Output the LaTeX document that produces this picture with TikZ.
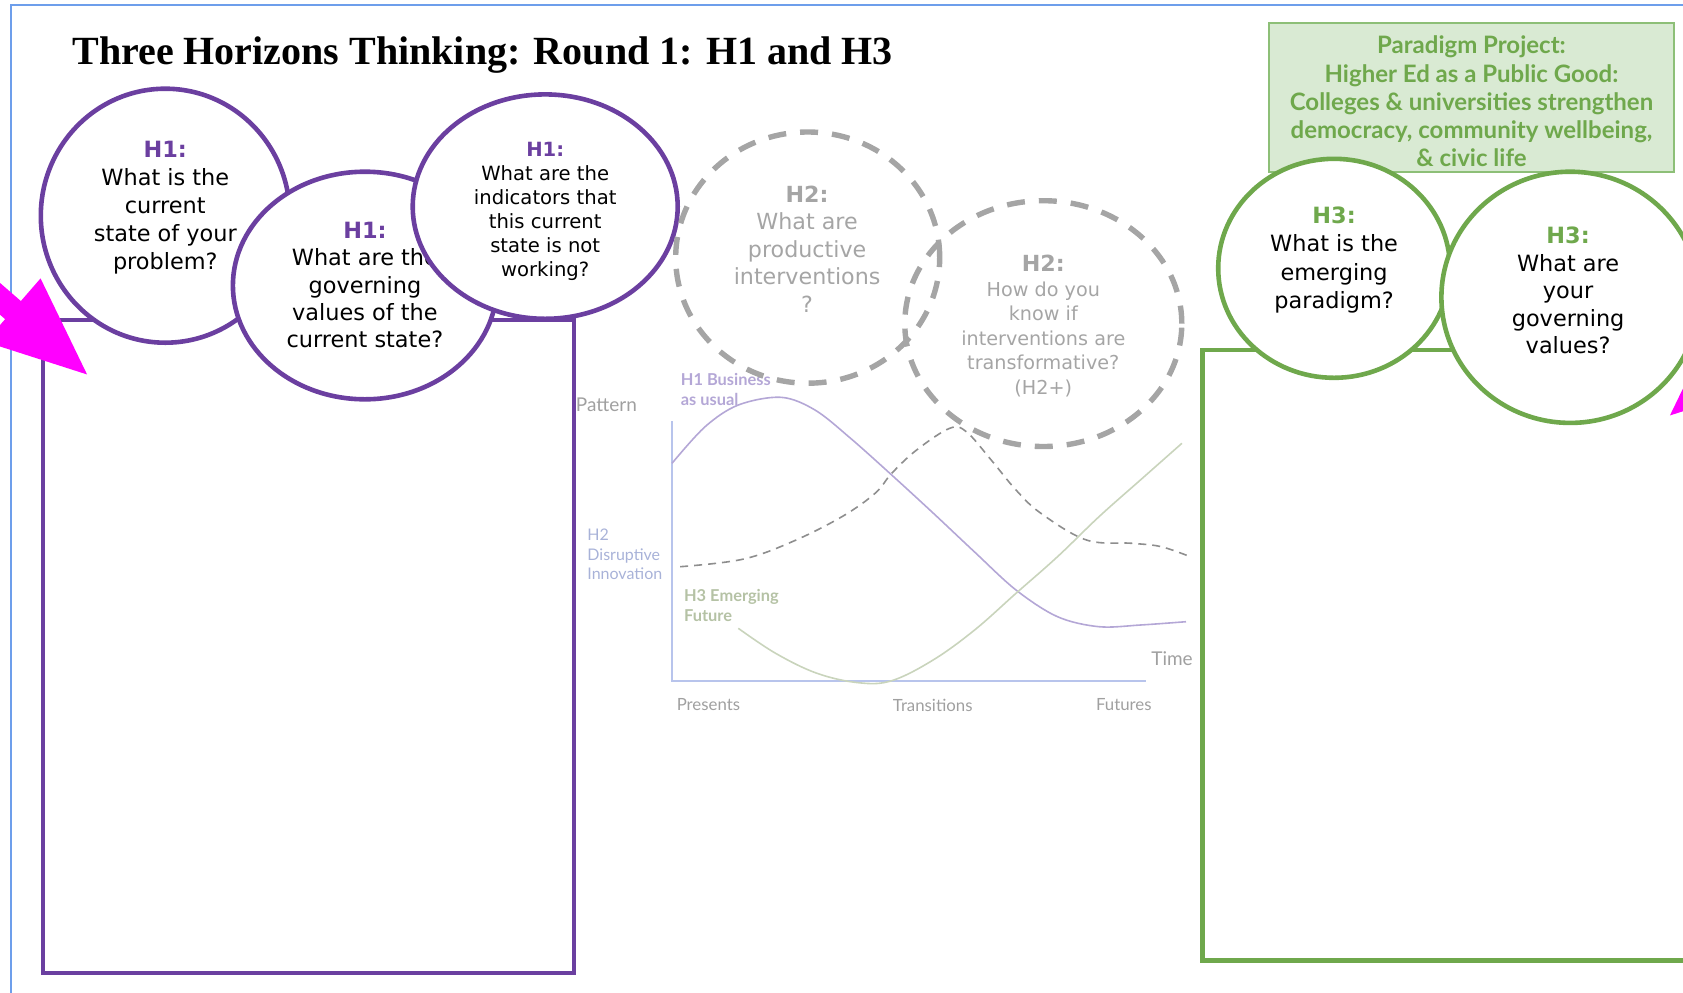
\documentclass[tikz,border=0pt]{standalone}
\usepackage{fontspec}
\setmainfont{Liberation Serif}
\newfontfamily\qfont{DejaVu Sans}
\newfontfamily\lato{Lato}
\usetikzlibrary{shapes.geometric,arrows.meta,positioning}
\definecolor{hpurple}{HTML}{6B3FA0}
\definecolor{hgreen}{HTML}{6FA84C}
\definecolor{hgreenfill}{HTML}{D9EAD3}
\definecolor{hgreenedge}{HTML}{8DBF77}
\definecolor{hgray}{HTML}{A5A5A5}
\definecolor{hframe}{HTML}{6D9EEB}
\definecolor{hmagenta}{HTML}{FF00FF}
\definecolor{curveone}{HTML}{B4A7D6}
\definecolor{curvetwo}{HTML}{8E8E8E}
\definecolor{curvethree}{HTML}{C9D4BC}
\definecolor{axisblue}{HTML}{B8C4EC}
\definecolor{lblgray}{HTML}{A0A0A0}
\definecolor{lblblue}{HTML}{A8B2D8}
\definecolor{lblgreen}{HTML}{B5C2A5}

\begin{document}
\begin{tikzpicture}[x=0.5pt,y=-0.5pt,
  ring/.style={ellipse,inner sep=0pt,line width=2.3pt,fill=white},
  h1ring/.style={ring,draw=hpurple},
  h3ring/.style={ring,draw=hgreen},
  h2ring/.style={ellipse,inner sep=0pt,draw=hgray,line width=2.7pt,dash pattern=on 9pt off 7pt},
  qtext/.style={align=center,inner sep=0pt,font=\qfont\fontsize{11.2}{14}\selectfont},
  area/.style={rectangle,anchor=north west,inner sep=0pt,line width=2.3pt},
  paradigm/.style={rectangle,draw=hgreenedge,fill=hgreenfill,line width=1pt,inner sep=0pt,
    minimum width=202.9pt,minimum height=74.6pt},
  paradigmtext/.style={inner sep=0pt,align=center,text=hgreen,
    font=\lato\bfseries\fontsize{12}{14.1}\selectfont},
  chartlbl/.style={inner sep=0pt,text=lblgray,font=\lato\fontsize{8.4}{10}\selectfont},
  pinkarrow/.style={draw=hmagenta,line width=12pt,-{Triangle[length=51pt,width=38pt]}}]
  \useasboundingbox (0,0) rectangle (1683,992);
  \clip (0,0) rectangle (1683,992);
  \draw[hframe,line width=0.9pt] (11,5) rectangle (1720,1030);
  \node[anchor=base west,inner sep=0pt,font=\bfseries\fontsize{20}{24}\selectfont] (title) at (72,64) {Three Horizons Thinking: Round 1: H1 and H3};

  \node[area,draw=hpurple,minimum width=265.5pt,minimum height=326.5pt] (h1area) at (40.8,317.7) {};
  \node[area,draw=hgreen,minimum width=260pt,minimum height=305.3pt] (h3area) at (1200,347.8) {};

  \node[h1ring,minimum width=124.5pt,minimum height=127pt] (h1state) at (165.3,215.7) {};
  \node[qtext] (h1statetxt) at (165.3,208) {\textbf{\color{hpurple}H1:}\\What is the\\current\\state of your\\problem?};
  \node[h1ring,minimum width=132pt,minimum height=113.8pt] (h1values) at (364.9,285.5) {};
  \node[qtext,font=\qfont\fontsize{11.2}{13.7}\selectfont] (h1valuestxt) at (364.9,285) {\textbf{\color{hpurple}H1:}\\What are the\\governing\\values of the\\current state?};
  \node[h1ring,minimum width=132.5pt,minimum height=112.2pt] (h1signs) at (545.2,206.6) {};
  \node[qtext,font=\qfont\fontsize{9.8}{12}\selectfont] (h1signstxt) at (545.2,211) {\textbf{\color{hpurple}H1:}\\What are the\\indicators that\\this current\\state is not\\working?};

  \coordinate (ytop) at (672,421);
  \coordinate (origin) at (672,680.5);
  \coordinate (xend) at (1146.3,680.5);
  \draw[axisblue,line width=1pt] (ytop) -- (origin) -- (xend);
  \draw[curveone,line width=0.8pt] plot[smooth,tension=0.55] coordinates {(672,463.3) (705.1,426.7) (738.3,405) (781,397.3) (815,410) (850.2,438) (891.7,475) (933.1,513) (974.6,552) (1016,590) (1057.5,616.7) (1099,626.7) (1140.4,625) (1186,621.7)};
  \draw[curvetwo,line width=0.8pt,dash pattern=on 4pt off 3pt] plot[smooth,tension=0.6] coordinates {(680.2,566.7) (742.4,559.3) (792.2,541.7) (841.9,516.7) (875.1,493.3) (891.7,473.3) (916.6,450) (949.7,428.3) (966.3,431.7) (991.2,460) (1016,490) (1040.9,513.3) (1086.5,540) (1132.1,543.3) (1161.2,546.7) (1190.2,556.7)};
  \draw[curvethree,line width=0.8pt] plot[smooth,tension=0.6] coordinates {(738.3,628.3) (775.6,653.3) (817,673.3) (858.5,682.7) (891.7,680.7) (933.1,660) (974.6,630) (1016,593.3) (1057.5,556.7) (1099,516.7) (1140.4,480) (1181.9,443.3)};
  \node[chartlbl,font=\lato\fontsize{9.5}{11}\selectfont] (pattern) at (606.4,404.6) {Pattern};
  \node[chartlbl,font=\lato\fontsize{9.5}{11}\selectfont] (time) at (1172,659) {Time};
  \node[chartlbl] (presents) at (708.4,704.1) {Presents};
  \node[chartlbl] (transitions) at (932.7,705.2) {Transitions};
  \node[chartlbl] (futures) at (1123.8,704.1) {Futures};
  \node[chartlbl,anchor=west,align=left,text=curveone,font=\lato\bfseries\fontsize{8.2}{9.7}\selectfont] (bau) at (680.5,389.6) {H1 Business\\as usual};
  \node[chartlbl,anchor=west,align=left,text=lblblue,font=\lato\fontsize{8}{9.9}\selectfont] (disrupt) at (587,554.4) {H2\\Disruptive\\Innovation};
  \node[chartlbl,anchor=west,align=left,text=lblgreen,font=\lato\bfseries\fontsize{8.2}{9.7}\selectfont] (emerge) at (683.7,605.4) {H3 Emerging\\Future};

  \node[h2ring,minimum width=132pt,minimum height=125.6pt] (h2moves) at (807.7,257.6) {};
  \node[qtext,text=hgray,font=\qfont\fontsize{11.1}{13.7}\selectfont] (h2movestxt) at (807.1,249) {\textbf{H2:}\\What are\\productive\\interventions\\?};
  \node[h2ring,minimum width=138.5pt,minimum height=122.9pt] (h2test) at (1043.3,323.6) {};
  \node[qtext,text=hgray,font=\qfont\fontsize{9.6}{12.3}\selectfont] (h2testtxt) at (1043.3,326) {{\fontsize{11.1}{13}\selectfont\textbf{H2:}}\\How do you\\know if\\interventions are\\transformative?\\(H2+)};

  \node[paradigm] (paradigm) at (1471.5,97.1) {};
  \node[paradigmtext] (paradigmtxt) at (1471.5,101.5) {Paradigm Project:\\Higher Ed as a Public Good:\\Colleges \& universities strengthen\\democracy, community wellbeing,\\\& civic life};
  \node[h3ring,minimum width=115.9pt,minimum height=109.5pt] (h3paradigm) at (1334.1,268.3) {};
  \node[qtext,font=\qfont\fontsize{11.2}{14.1}\selectfont] (h3paradigmtxt) at (1334.1,260) {\textbf{\color{hgreen}H3:}\\What is the\\emerging\\paradigm?};
  \node[h3ring,minimum width=128.8pt,minimum height=125.6pt] (h3values) at (1570.2,297.3) {};
  \node[qtext,font=\qfont\fontsize{11.2}{13.8}\selectfont] (h3valuestxt) at (1568.1,290.5) {\textbf{\color{hgreen}H3:}\\What are\\your\\governing\\values?};

  \coordinate (arrowtipL) at (90,377);
  \coordinate (arrowtailL) at (-136.5,180.2);
  \coordinate (arrowtipR) at (1667,418);
  \coordinate (arrowtailR) at (1893.5,221.2);
  \draw[pinkarrow] (arrowtailL) -- (arrowtipL);
  \draw[pinkarrow] (arrowtailR) -- (arrowtipR);
\end{tikzpicture}
\end{document}
